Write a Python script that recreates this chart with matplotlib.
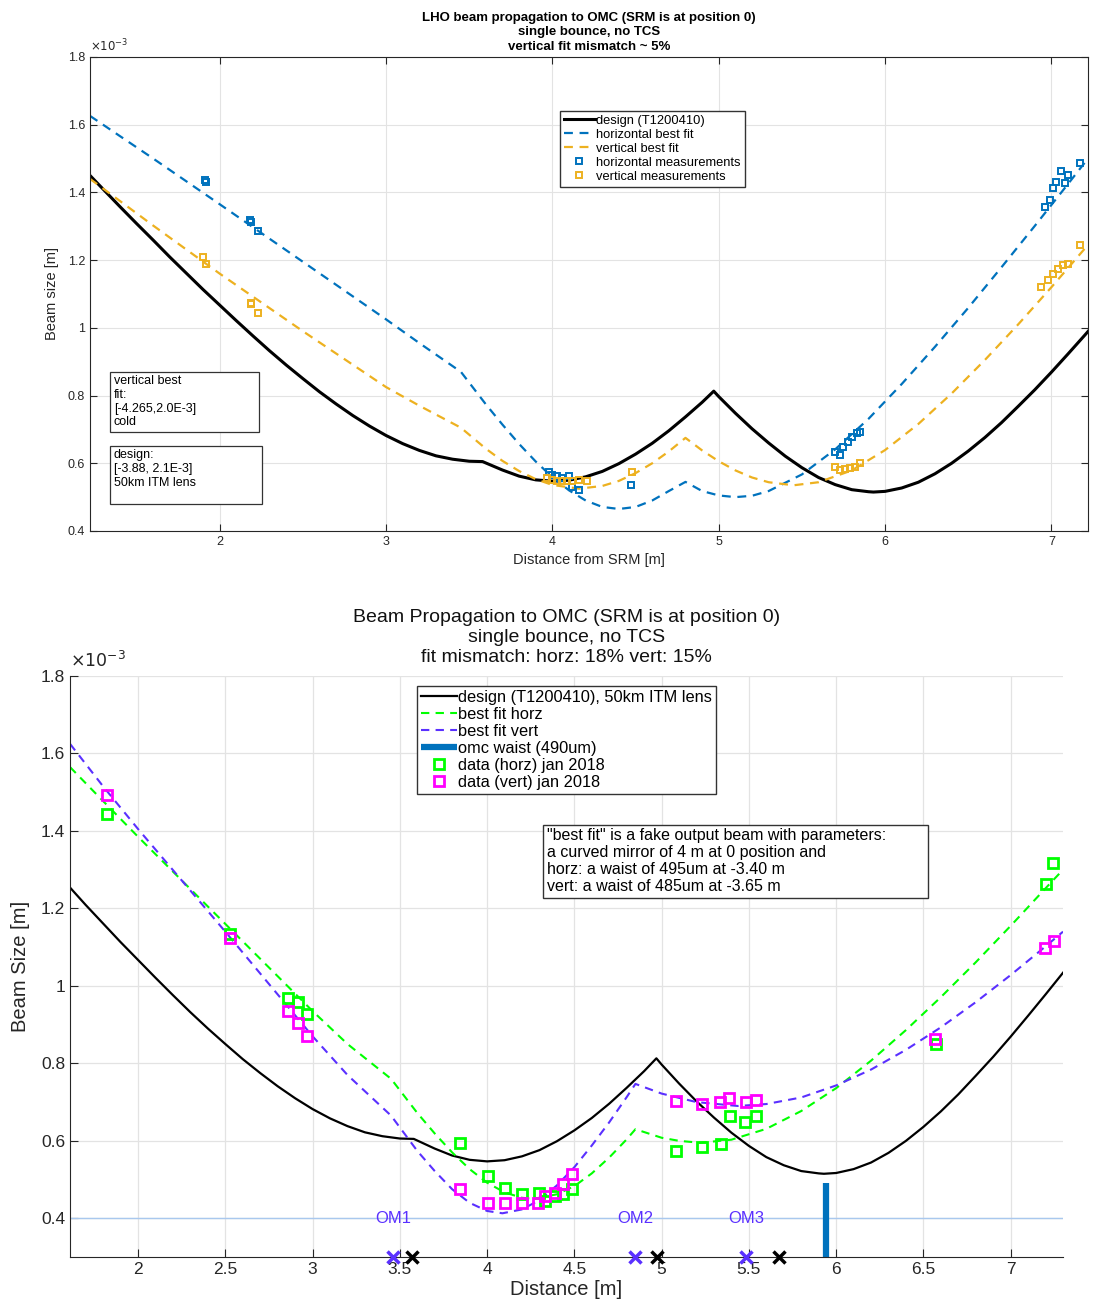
import matplotlib.pyplot as plt
from matplotlib.patches import Rectangle

# ---------- data (beam size in units of 1e-3 m) ----------
design_x = [1.22, 1.3, 1.4, 1.5, 1.6, 1.7, 1.8, 1.9, 2.0, 2.1, 2.2, 2.3, 2.4, 2.5, 2.6, 2.7,
            2.8, 2.9, 3.0, 3.1, 3.2, 3.3, 3.4, 3.5, 3.58, 3.7, 3.8, 3.9,
            4.0, 4.1, 4.2, 4.3, 4.4, 4.5, 4.6, 4.7, 4.8, 4.9, 4.97, 5.0, 5.1, 5.2, 5.3, 5.4, 5.5,
            5.6, 5.7, 5.8, 5.9, 5.93, 6.0, 6.1, 6.2, 6.3, 6.4, 6.5, 6.6, 6.7, 6.8, 6.9, 7.0, 7.1,
            7.2, 7.3]
design_w = [1.450, 1.409, 1.358, 1.308, 1.259, 1.209, 1.161, 1.113, 1.067, 1.021, 0.976, 0.932,
            0.890, 0.850, 0.811, 0.775, 0.741, 0.710, 0.682, 0.658, 0.638, 0.622, 0.612, 0.606,
            0.605, 0.580, 0.562, 0.551, 0.547, 0.550, 0.560, 0.576, 0.599, 0.627, 0.659, 0.696,
            0.737, 0.780, 0.813, 0.797, 0.748, 0.702, 0.660, 0.621, 0.587, 0.558, 0.537, 0.522,
            0.516, 0.515, 0.517, 0.527, 0.544, 0.569, 0.600, 0.636, 0.676, 0.720, 0.768, 0.817,
            0.869, 0.923, 0.978, 1.034]

# top panel: LHO fits
hfit_x = [1.22, 1.6, 2.0, 2.5, 3.0, 3.2, 3.45, 3.6, 3.7, 3.8, 3.9, 4.0, 4.1, 4.2, 4.3, 4.4,
          4.5, 4.6, 4.7, 4.8, 4.9, 5.0, 5.1, 5.2, 5.3, 5.5, 5.7, 5.9, 6.1, 6.3, 6.5, 6.7, 6.9,
          7.1, 7.22]
hfit_w = [1.626, 1.50, 1.365, 1.195, 1.025, 0.955, 0.87, 0.774, 0.714, 0.657, 0.605, 0.559,
          0.520, 0.490, 0.471, 0.465, 0.471, 0.490, 0.518, 0.545, 0.518, 0.505, 0.50, 0.504,
          0.518, 0.567, 0.641, 0.731, 0.834, 0.944, 1.059, 1.179, 1.301, 1.425, 1.50]
vfit_x = [1.22, 1.6, 2.0, 2.5, 3.0, 3.2, 3.45, 3.6, 3.7, 3.8, 3.9, 4.0, 4.16, 4.3, 4.4, 4.5,
          4.6, 4.7, 4.8, 4.9, 5.0, 5.1, 5.2, 5.3, 5.45, 5.6, 5.8, 6.0, 6.2, 6.4, 6.6, 6.8, 7.0,
          7.22]
vfit_w = [1.44, 1.302, 1.16, 0.99, 0.825, 0.77, 0.705, 0.643, 0.607, 0.577, 0.553, 0.536,
          0.525, 0.533, 0.548, 0.571, 0.600, 0.635, 0.675, 0.638, 0.606, 0.579, 0.558, 0.544,
          0.535, 0.544, 0.579, 0.639, 0.716, 0.806, 0.905, 1.010, 1.120, 1.245]

hmeas_x = [1.91, 1.92, 2.18, 2.19, 2.23, 3.98, 4.0, 4.03, 4.06, 4.1, 4.12, 4.16, 4.47,
           5.70, 5.73, 5.75, 5.78, 5.80, 5.83, 5.85,
           6.96, 6.99, 7.01, 7.03, 7.06, 7.08, 7.10, 7.17]
hmeas_w = [1.437, 1.43, 1.318, 1.312, 1.286, 0.574, 0.565, 0.562, 0.556, 0.562, 0.53, 0.52, 0.536,
           0.633, 0.624, 0.648, 0.663, 0.678, 0.689, 0.692,
           1.357, 1.378, 1.413, 1.43, 1.463, 1.428, 1.45, 1.487]
vmeas_x = [1.90, 1.92, 2.19, 2.19, 2.23, 3.97, 4.0, 4.03, 4.06, 4.09, 4.12, 4.16, 4.21, 4.48,
           5.70, 5.73, 5.76, 5.79, 5.82, 5.85,
           6.94, 6.98, 7.01, 7.04, 7.07, 7.10, 7.17]
vmeas_w = [1.209, 1.19, 1.07, 1.072, 1.044, 0.556, 0.552, 0.548, 0.548, 0.548, 0.548, 0.55, 0.548,
           0.574, 0.589, 0.58, 0.583, 0.586, 0.589, 0.60,
           1.12, 1.14, 1.16, 1.175, 1.185, 1.19, 1.245]

# bottom panel: jan 2018 fits and data
gfit_x = [1.61, 1.8, 2.0, 2.5, 3.0, 3.2, 3.45, 3.6, 3.7, 3.8, 3.9, 4.0, 4.1, 4.2, 4.264, 4.4,
          4.5, 4.6, 4.7, 4.8, 4.85, 5.0, 5.1, 5.222, 5.4, 5.6, 5.8, 6.0, 6.2, 6.4, 6.6, 6.8,
          7.0, 7.2, 7.3]
gfit_w = [1.565, 1.477, 1.385, 1.16, 0.935, 0.85, 0.76, 0.672, 0.619, 0.570, 0.527, 0.492,
          0.467, 0.453, 0.45, 0.462, 0.483, 0.516, 0.557, 0.604, 0.63, 0.608, 0.600, 0.595,
          0.603, 0.631, 0.677, 0.736, 0.807, 0.886, 0.971, 1.061, 1.155, 1.252, 1.30]
pfit_x = [1.61, 1.8, 2.0, 2.5, 3.0, 3.2, 3.45, 3.6, 3.7, 3.8, 3.9, 4.0, 4.088, 4.2, 4.3, 4.4,
          4.5, 4.6, 4.7, 4.8, 4.85, 5.0, 5.2, 5.437, 5.6, 5.8, 6.0, 6.2, 6.4, 6.6, 6.8, 7.0,
          7.2, 7.3]
pfit_w = [1.625, 1.515, 1.405, 1.14, 0.87, 0.77, 0.665, 0.574, 0.522, 0.475, 0.440, 0.419,
          0.413, 0.423, 0.447, 0.485, 0.532, 0.588, 0.648, 0.713, 0.747, 0.722, 0.700, 0.69,
          0.695, 0.712, 0.743, 0.784, 0.835, 0.893, 0.958, 1.028, 1.102, 1.14]

horz_x = [1.822, 2.527, 2.86, 2.917, 2.968, 3.845, 4.006, 4.103, 4.2, 4.30, 4.33, 4.39, 4.436,
          4.487, 5.08, 5.23, 5.34, 5.39, 5.48, 5.54, 6.57, 7.20, 7.24]
horz_w = [1.443, 1.135, 0.969, 0.959, 0.928, 0.594, 0.509, 0.478, 0.462, 0.465, 0.444, 0.457,
          0.462, 0.475, 0.573, 0.584, 0.591, 0.664, 0.648, 0.664, 0.85, 1.262, 1.318]
vert_x = [1.822, 2.527, 2.86, 2.917, 2.968, 3.845, 4.006, 4.103, 4.2, 4.29, 4.33, 4.39, 4.436,
          4.487, 5.083, 5.23, 5.335, 5.387, 5.484, 5.54, 6.567, 7.198, 7.25]
vert_w = [1.492, 1.124, 0.936, 0.905, 0.871, 0.475, 0.439, 0.439, 0.439, 0.439, 0.457, 0.465,
          0.488, 0.514, 0.703, 0.695, 0.70, 0.71, 0.70, 0.705, 0.863, 1.099, 1.117]

waist_x = [5.94, 5.94]
waist_w = [0.30, 0.49]

om_labels = ["OM1", "OM2", "OM3"]
om_fit_x = [3.46, 4.85, 5.485]
om_design_x = [3.57, 4.975, 5.675]

BLUE = "#0072BD"
YELLOW = "#EDB120"
PURPLE = "#5A30FF"
GREEN = "#00FF00"
MAGENTA = "#FF00FF"
AXC = "#262626"

plt.rcParams['font.family'] = ['Liberation Sans', 'DejaVu Sans']
plt.rcParams['axes.edgecolor'] = AXC
plt.rcParams['xtick.color'] = AXC
plt.rcParams['ytick.color'] = AXC

fig = plt.figure(figsize=(10.95, 13.04), dpi=100)

# ---------- top panel ----------
ax1 = fig.add_axes([0.0822, 0.5928, 0.9114, 0.3635])
ax1.plot(design_x, design_w, color="k", lw=2.2, label="design (T1200410)")
ax1.plot(hfit_x, hfit_w, color=BLUE, lw=1.6, ls=(0, (4, 3)), label="horizontal best fit")
ax1.plot(vfit_x, vfit_w, color=YELLOW, lw=1.6, ls=(0, (4, 3)), label="vertical best fit")
ax1.plot(hmeas_x, hmeas_w, "s", ms=5, mfc="none", mec=BLUE, mew=1.4, label="horizontal measurements")
ax1.plot(vmeas_x, vmeas_w, "s", ms=5, mfc="none", mec=YELLOW, mew=1.4, label="vertical measurements")
ax1.set_xlim(1.22, 7.22)
ax1.set_ylim(0.4, 1.8)
ax1.set_xticks([2, 3, 4, 5, 6, 7])
ax1.set_yticks([0.4, 0.6, 0.8, 1.0, 1.2, 1.4, 1.6, 1.8])
ax1.yaxis.set_major_formatter(plt.FormatStrFormatter("%g"))
ax1.tick_params(direction="in", top=True, right=True, labelsize=9, length=5)
ax1.grid(True, color="#E3E3E3", lw=0.8)
ax1.set_axisbelow(True)
ax1.set_xlabel("Distance from SRM [m]", fontsize=10.5, color=AXC, labelpad=4)
ax1.set_ylabel("Beam size [m]", fontsize=10.5, color=AXC, labelpad=6)
ax1.set_title("LHO beam propagation to OMC (SRM is at position 0)\nsingle bounce, no TCS\n"
              "vertical fit mismatch ~ 5%", fontsize=9.5, fontweight="bold", pad=5,
              linespacing=1.3)
ax1.text(0.0, 1.005, r"$\times10^{-3}$", transform=ax1.transAxes, fontsize=8.5,
         color=AXC, ha="left", va="bottom")
ax1.legend(loc="upper left", bbox_to_anchor=(0.471, 0.886), borderaxespad=0, fontsize=9.3,
           fancybox=False, framealpha=1, edgecolor="#333333", handlelength=2.4,
           handletextpad=0.1, labelspacing=0.15, borderpad=0.3, numpoints=1)

ax1.add_patch(Rectangle((0.020, 0.209), 0.149, 0.126, transform=ax1.transAxes,
                        fc="white", ec="#333333", lw=0.9, zorder=5))
ax1.text(0.024, 0.329, "vertical best\nfit:\n[-4.265,2.0E-3]\ncold", transform=ax1.transAxes,
         fontsize=9, va="top", ha="left", linespacing=1.2, zorder=6)
ax1.add_patch(Rectangle((0.020, 0.057), 0.152, 0.122, transform=ax1.transAxes,
                        fc="white", ec="#333333", lw=0.9, zorder=5))
ax1.text(0.024, 0.173, "design:\n[-3.88, 2.1E-3]\n50km ITM lens", transform=ax1.transAxes,
         fontsize=9, va="top", ha="left", linespacing=1.2, zorder=6)

# ---------- bottom panel ----------
ax2 = fig.add_axes([0.0639, 0.036, 0.9069, 0.4456])
ax2.axhline(0.4, color="#A9C8EE", lw=1.0, zorder=1)
ax2.plot(design_x, design_w, color="k", lw=1.6, label="design (T1200410), 50km ITM lens")
ax2.plot(gfit_x, gfit_w, color=GREEN, lw=1.5, ls=(0, (4, 3)), label="best fit horz")
ax2.plot(pfit_x, pfit_w, color=PURPLE, lw=1.5, ls=(0, (4, 3)), label="best fit vert")
ax2.plot(waist_x, waist_w, color=BLUE, lw=4.5, solid_capstyle="butt", label="omc waist (490um)")
ax2.plot(horz_x, horz_w, "s", ms=7.5, mfc="none", mec=GREEN, mew=2, label="data (horz) jan 2018")
ax2.plot(vert_x, vert_w, "s", ms=7.5, mfc="none", mec=MAGENTA, mew=2, label="data (vert) jan 2018")
ax2.plot(om_fit_x, [0.3] * len(om_fit_x), "x", ms=9, mew=2.5, color=PURPLE, clip_on=False, zorder=6)
ax2.plot(om_design_x, [0.3] * len(om_design_x), "x", ms=9, mew=2.5, color="k", clip_on=False, zorder=6)
for lab, xo in zip(om_labels, om_fit_x):
    ax2.text(xo, 0.4, lab, color=PURPLE, fontsize=12, ha="center", va="center")
ax2.set_xlim(1.61, 7.30)
ax2.set_ylim(0.3, 1.8)
ax2.set_xticks([2, 2.5, 3, 3.5, 4, 4.5, 5, 5.5, 6, 6.5, 7])
ax2.set_yticks([0.4, 0.6, 0.8, 1.0, 1.2, 1.4, 1.6, 1.8])
ax2.xaxis.set_major_formatter(plt.FormatStrFormatter("%g"))
ax2.yaxis.set_major_formatter(plt.FormatStrFormatter("%g"))
ax2.tick_params(direction="in", labelsize=12.5, length=6)
ax2.spines["top"].set_visible(False)
ax2.spines["right"].set_visible(False)
ax2.grid(True, color="#E3E3E3", lw=0.9)
ax2.set_axisbelow(True)
ax2.set_xlabel("Distance [m]", fontsize=14.5, color=AXC, labelpad=2)
ax2.set_ylabel("Beam Size [m]", fontsize=14.5, color=AXC, labelpad=8)
ax2.set_title("Beam Propagation to OMC (SRM is at position 0)\nsingle bounce, no TCS\n"
              "fit mismatch: horz: 18% vert: 15%", fontsize=14, pad=10, color="#111111",
              linespacing=1.25)
ax2.text(0.0, 1.01, r"$\times10^{-3}$", transform=ax2.transAxes, fontsize=12.5,
         color=AXC, ha="left", va="bottom")
ax2.legend(loc="upper left", bbox_to_anchor=(0.349, 0.983), borderaxespad=0, fontsize=11.8,
           fancybox=False, framealpha=1, edgecolor="#333333", handlelength=2.2,
           handletextpad=0.1, labelspacing=0.12, borderpad=0.25, numpoints=1)

ax2.add_patch(Rectangle((0.476, 0.618), 0.388, 0.1255, transform=ax2.transAxes,
                        fc="white", ec="#333333", lw=1.0, zorder=5))
ax2.text(0.480, 0.739, '"best fit" is a fake output beam with parameters:\n'
         'a curved mirror of 4 m at 0 position and\n'
         'horz: a waist of 495um at -3.40 m\n'
         'vert: a waist of 485um at -3.65 m', transform=ax2.transAxes,
         fontsize=11.5, va="top", ha="left", linespacing=1.18, zorder=6)

plt.savefig("out.png", dpi=100)
plt.close()
